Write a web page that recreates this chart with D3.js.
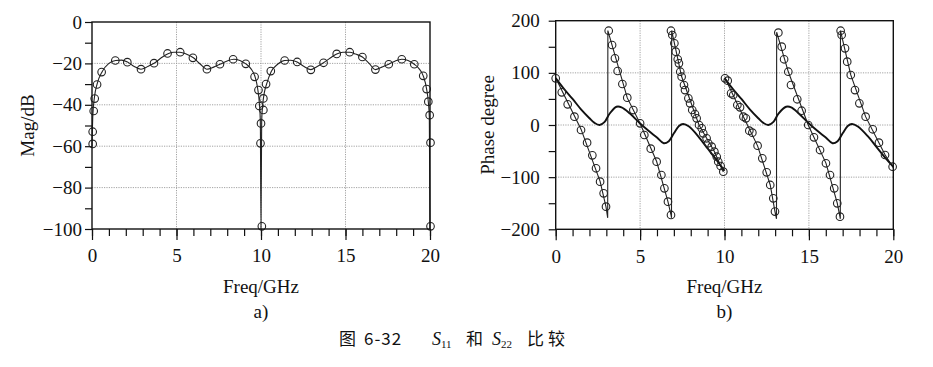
<!DOCTYPE html>
<html><head><meta charset="utf-8">
<script src="https://cdn.jsdelivr.net/npm/d3@7"></script>
<style>
html,body{margin:0;padding:0;background:#fff;}
svg{display:block;}
text{font-family:"Liberation Serif","Times New Roman",serif;fill:#111;}
.cjk{font-family:"Noto Sans CJK SC",sans-serif;}
</style></head>
<body>
<svg id="c" width="933" height="367"></svg>
<script>
// ---------- data ----------
const xTicks = [0, 5, 10, 15, 20];
const magTicks = [0, -20, -40, -60, -80, -100];
const phaseTicks = [200, 100, 0, -100, -200];

// (a) magnitude: S11 line
const magLineF = [0,0.05,0.15,0.3,0.6,1.0,1.4,1.75,2.1,2.5,2.9,3.3,3.7,4.1,4.5,4.85,5.2,5.6,6.0,6.4,6.8,7.2,7.6,8.0,8.4,8.75,9.1,9.4,9.65,9.8,9.9,9.96,10.0,
  10.04,10.1,10.2,10.33,10.6,11.0,11.4,11.75,12.14,12.55,12.95,13.3,13.7,14.1,14.48,14.85,15.25,15.6,16.0,16.4,16.77,17.15,17.56,17.95,18.33,18.7,19.07,19.35,19.6,19.8,19.9,19.96,20.0];
const magLineDb = [-60,-45,-36,-30,-24,-20,-18.6,-18.4,-19.3,-21.5,-22.8,-21.5,-19.8,-17.3,-15.3,-14.6,-14.6,-15.6,-17.3,-20.3,-22.8,-21.8,-20.3,-18.8,-18,-18.6,-20.2,-22.5,-26.5,-32,-39,-48,-100,
  -48,-40,-34,-30,-24,-20.3,-18.6,-18.5,-19.3,-21.5,-23,-21.6,-19.7,-17.4,-15.4,-14.6,-14.6,-15.5,-16.9,-20,-23,-21.8,-20.4,-18.8,-18,-18.6,-20.4,-22.5,-26,-32.4,-38.5,-46,-100];
// (a) magnitude: S22 markers
const magMarkF = [0.04,0.04,0.1,0.16,0.3,0.57,1.38,2.09,2.9,3.67,4.47,5.22,5.97,6.8,7.57,8.35,9.1,9.62,9.85,9.9,10.0,9.97,10.05,10.14,10.14,10.3,10.58,11.4,12.14,12.95,13.7,14.48,15.25,16.0,16.77,17.56,18.33,19.07,19.6,19.8,19.9,19.98,20.03,20.03];
const magMarkDb = [-58.9,-53,-43,-37,-30.2,-24.2,-18.6,-19.4,-22.8,-19.9,-15.2,-14.6,-17.3,-22.8,-20.4,-18,-20.2,-26.5,-32.9,-40.6,-49,-58.6,-98.7,-36.9,-42.5,-30,-23.7,-18.6,-19.3,-23.1,-19.7,-15.4,-14.6,-16.9,-23,-20.4,-18,-20.4,-26,-32.4,-38.5,-45,-58.3,-98.7];

// (b) phase: S11 smooth curve (two sweeps)
const phaseSmoothF1 = [0,0.5,1.0,1.5,2.0,2.3,2.6,2.9,3.2,3.6,3.9,4.4,5.0,5.5,6.0,6.4,6.7,7.0,7.3,7.55,7.9,8.5,9.0,9.5,10];
const phaseSmoothD1 = [90,69,50,30,13,4,0,6,22,35,34,22,3,-11,-24,-35,-31,-16,-2,2,-3,-24,-45,-66,-88];
const phaseSmoothF2 = [10,10.5,11,11.5,12,12.3,12.6,12.9,13.2,13.65,13.95,14.4,15.0,15.5,16.0,16.4,16.7,17.0,17.3,17.55,17.9,18.5,19.0,19.5,20];
const phaseSmoothD2 = [90,69,50,30,13,4,0,6,22,35,34,22,3,-11,-24,-35,-31,-16,-2,2,-3,-22,-42,-62,-80];

// (b) phase: S22 sawtooth line (two sweeps)
const sawF1 = [0,1.5,2.63,2.98,3.08,3.09,4.24,5.0,5.98,6.65,6.84,6.86,6.87,7.46,8.49,9.4,9.93];
const sawD1 = [90,-8,-108,-157,-178,181,52,3,-70,-147,-174,-178,181,93,0,-51,-90];
const sawF2 = [10.03,11.12,11.96,12.71,12.99,13.08,13.09,13.78,14.96,16.01,16.68,16.84,16.86,16.87,17.48,18.36,19.51,20];
const sawD2 = [90,16,-40,-115,-166,-180,178,102,0,-73,-150,-176,-180,181,96,16,-57,-82];

// (b) phase: S22 markers
const phaseMarkF = [0,0.36,0.71,1.11,1.5,1.86,2.17,2.39,2.63,2.84,2.98,
  3.14,3.34,3.51,3.67,3.95,4.24,4.6,5.0,5.25,5.63,5.98,6.26,6.44,6.65,6.83,
  6.83,6.91,7.03,7.11,7.23,7.3,7.38,7.46,7.6,7.66,7.86,7.96,8.09,8.25,8.35,8.49,8.65,8.74,8.94,9.04,9.24,9.4,9.54,9.63,9.77,9.93,
  10.03,10.19,10.39,10.52,10.76,10.92,11.12,11.27,11.47,11.65,11.96,12.24,12.5,12.71,12.89,12.99,
  13.19,13.39,13.53,13.78,13.94,14.31,14.57,14.96,15.3,15.66,16.01,16.25,16.5,16.68,16.84,
  16.88,16.94,17.14,17.27,17.48,17.73,17.99,18.36,18.78,19.15,19.51,19.96];
const phaseMarkD = [89.5,62.6,39.6,16,-9.6,-33.9,-58.2,-83,-108.6,-131,-156.6,
  180.8,153.4,127.8,103.5,78.6,52.4,28.7,3.2,-19.2,-45.4,-70.3,-95.9,-121.4,-147,-172.5,
  180.8,172.6,156.7,140.6,126,118.3,102.2,92.6,76.7,67,51.2,41.6,28.8,21,12.8,0,-6.3,-16,-25.5,-35,-41.6,-51.2,-60.8,-70.4,-78.6,-89.5,
  89.5,85,60.7,57.5,38.3,33.8,16,12.8,-10.9,-14.7,-39.6,-63.9,-90.7,-115,-140.6,-166.1,
  177,150.2,126,102.2,76.7,49.3,27.4,0,-23.6,-48,-73.4,-95.9,-121.4,-150.2,-175.8,
  180.8,172.6,147,121.4,95.9,67,41.6,16,-8.2,-33.9,-57.5,-80];

// ---------- drawing ----------
const svg = d3.select("#c");
const zip = (a, b) => a.map((v, i) => [v, b[i]]);

function panel(o) {
  const g = svg.append("g");
  const x = d3.scaleLinear().domain([0, 20]).range([o.x0, o.x1]);
  const y = d3.scaleLinear().domain(o.yDomain).range([o.y1, o.y0]);

  // grid
  g.append("g").selectAll("line").data(o.xGrid).join("line")
    .attr("x1", d => x(d)).attr("x2", d => x(d)).attr("y1", o.y0).attr("y2", o.y1)
    .attr("stroke", "#999").attr("stroke-width", 0.9).attr("stroke-dasharray", "1.2,1.2");
  g.append("g").selectAll("line").data(o.yGrid).join("line")
    .attr("x1", o.x0).attr("x2", o.x1).attr("y1", d => y(d)).attr("y2", d => y(d))
    .attr("stroke", "#999").attr("stroke-width", 0.9).attr("stroke-dasharray", "1.2,1.2");

  // axes
  const xMinor = d3.axisBottom(x).tickValues(d3.range(0, 21, 1)).tickSize(7).tickFormat("");
  const xMajor = d3.axisBottom(x).tickValues(xTicks).tickSize(11).tickPadding(9);
  const yMinor = d3.axisLeft(y).tickValues(o.yMinor).tickSize(7).tickFormat("");
  const yMajor = d3.axisLeft(y).tickValues(o.yTicks).tickSize(7).tickPadding(o.yPad)
    .tickFormat(d => d < 0 ? "\u2212" + Math.abs(d) : d);

  for (const ax of [xMinor, xMajor]) {
    const a = g.append("g").attr("transform", `translate(0,${o.y1})`).call(ax);
    a.select(".domain").remove();
    a.selectAll("line").attr("stroke", "#111").attr("stroke-width", 1.2);
    a.selectAll("text").attr("font-size", 19).attr("font-family", "Liberation Serif").attr("fill", "#111");
  }
  for (const ax of [yMinor, yMajor]) {
    const a = g.append("g").attr("transform", `translate(${o.x0},0)`).call(ax);
    a.select(".domain").remove();
    a.selectAll("line").attr("stroke", "#111").attr("stroke-width", 1.2);
    a.selectAll("text").attr("font-size", 19).attr("font-family", "Liberation Serif").attr("fill", "#111");
  }

  // data
  o.draw(g, x, y);

  // frame
  g.append("rect").attr("x", o.x0).attr("y", o.y0).attr("width", o.x1 - o.x0).attr("height", o.y1 - o.y0)
    .attr("fill", "none").attr("stroke", "#111").attr("stroke-width", 1.4);

  // labels
  g.append("text").attr("x", (o.x0 + o.x1) / 2).attr("y", 286).attr("dy", "0.35em")
    .attr("text-anchor", "middle").attr("font-size", 19).text("Freq/GHz");
  g.append("text").attr("x", (o.x0 + o.x1) / 2).attr("y", 311).attr("dy", "0.35em")
    .attr("text-anchor", "middle").attr("font-size", 19).text(o.sub);
  g.append("text").attr("transform", `translate(${o.titleX},${(o.y0 + o.y1) / 2}) rotate(-90)`)
    .attr("dy", "0.35em").attr("text-anchor", "middle").attr("font-size", 19).text(o.title);
}

// (a)
panel({
  x0: 92, x1: 430, y0: 22, y1: 229, yDomain: [-100, 0],
  xGrid: [5, 10, 15], yGrid: [-20, -40, -60, -80],
  yTicks: magTicks, yMinor: d3.range(-90, 0, 20), yPad: 3,
  title: "Mag/dB", titleX: 27, sub: "a)",
  draw(g, x, y) {
    g.append("path").datum(zip(magLineF, magLineDb))
      .attr("d", d3.line().x(d => x(d[0])).y(d => y(d[1])).curve(d3.curveMonotoneX))
      .attr("fill", "none").attr("stroke", "#222").attr("stroke-width", 1.1);
    g.append("g").selectAll("circle").data(zip(magMarkF, magMarkDb)).join("circle")
      .attr("cx", d => x(d[0])).attr("cy", d => y(d[1])).attr("r", 3.8)
      .attr("fill", "none").attr("stroke", "#222").attr("stroke-width", 1.1);
  }
});

// (b)
panel({
  x0: 555.7, x1: 893.3, y0: 20.7, y1: 229.3, yDomain: [-200, 200],
  xGrid: [5, 10, 15], yGrid: [100, 0, -100],
  yTicks: phaseTicks, yMinor: [150, 50, -50, -150], yPad: 9,
  title: "Phase degree", titleX: 487, sub: "b)",
  draw(g, x, y) {
    const smooth = d3.line().x(d => x(d[0])).y(d => y(d[1])).curve(d3.curveCatmullRom.alpha(0.5));
    const lin = d3.line().x(d => x(d[0])).y(d => y(d[1]));
    for (const [f, v] of [[sawF1, sawD1], [sawF2, sawD2]]) {
      g.append("path").datum(zip(f, v)).attr("d", lin)
        .attr("fill", "none").attr("stroke", "#222").attr("stroke-width", 1.1);
    }
    for (const [f, v] of [[phaseSmoothF1, phaseSmoothD1], [phaseSmoothF2, phaseSmoothD2]]) {
      g.append("path").datum(zip(f, v)).attr("d", smooth)
        .attr("fill", "none").attr("stroke", "#111").attr("stroke-width", 1.9);
    }
    g.append("g").selectAll("circle").data(zip(phaseMarkF, phaseMarkD)).join("circle")
      .attr("cx", d => x(d[0])).attr("cy", d => y(d[1])).attr("r", 3.8)
      .attr("fill", "none").attr("stroke", "#222").attr("stroke-width", 1.1);
  }
});

// caption
const cap = svg.append("g");
const capY = 345;
cap.append("text").attr("class", "cjk").attr("x", 339).attr("y", capY).attr("font-size", 17).text("图");
cap.append("text").attr("class", "cjk").attr("x", 364).attr("y", capY).attr("font-size", 17)
  .attr("letter-spacing", 1).text("6-32");
function sTerm(xp, sub) {
  const t = cap.append("text").attr("x", xp).attr("y", capY).attr("font-size", 18)
    .attr("font-family", "Liberation Serif").attr("font-style", "italic");
  t.append("tspan").text("S");
  t.append("tspan").attr("font-size", 11).attr("font-style", "normal").attr("dy", 3).text(sub);
}
sTerm(432, "11");
cap.append("text").attr("class", "cjk").attr("x", 466).attr("y", capY).attr("font-size", 17).text("和");
sTerm(492, "22");
cap.append("text").attr("class", "cjk").attr("x", 527).attr("y", capY).attr("font-size", 17)
  .attr("letter-spacing", 4).text("比较");
</script>
</body></html>
